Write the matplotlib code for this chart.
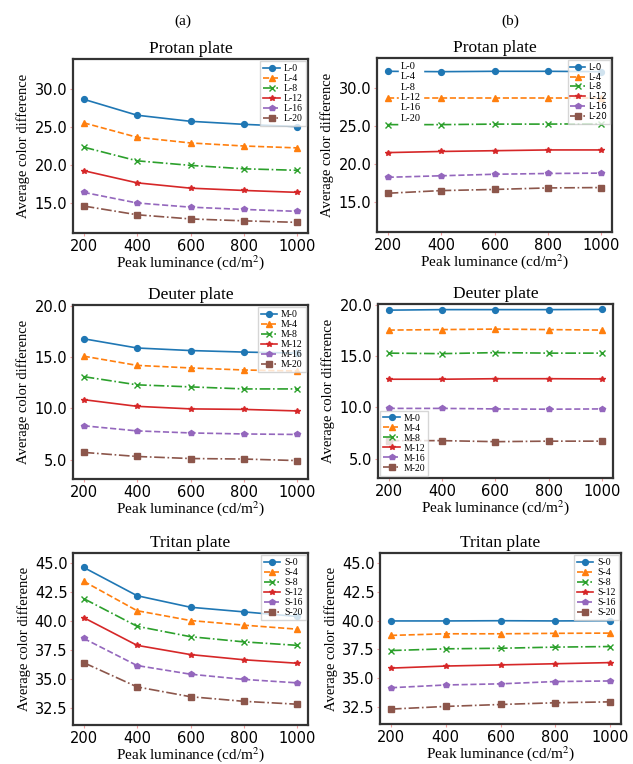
import matplotlib
matplotlib.use("Agg")
import matplotlib.pyplot as plt
from matplotlib.lines import Line2D

# peak luminance levels (cd/m^2)
luminance = [200, 400, 600, 800, 1000]

protan_labels = ["L-0", "L-4", "L-8", "L-12", "L-16", "L-20"]
deuter_labels = ["M-0", "M-4", "M-8", "M-12", "M-16", "M-20"]
tritan_labels = ["S-0", "S-4", "S-8", "S-12", "S-16", "S-20"]

# (a) average color difference
protan_a = [
    [28.6, 26.5, 25.7, 25.3, 25.0],
    [25.5, 23.6, 22.85, 22.45, 22.2],
    [22.3, 20.5, 19.9, 19.45, 19.25],
    [19.2, 17.6, 16.9, 16.6, 16.35],
    [16.35, 14.95, 14.4, 14.1, 13.85],
    [14.55, 13.4, 12.85, 12.6, 12.4],
]
deuter_a = [
    [16.8, 15.9, 15.65, 15.5, 15.4],
    [15.1, 14.2, 13.95, 13.75, 13.65],
    [13.1, 12.3, 12.1, 11.9, 11.9],
    [10.85, 10.2, 9.95, 9.9, 9.75],
    [8.3, 7.8, 7.6, 7.5, 7.45],
    [5.7, 5.3, 5.1, 5.05, 4.9],
]
tritan_a = [
    [44.65, 42.2, 41.2, 40.8, 40.4],
    [43.45, 40.9, 40.05, 39.65, 39.3],
    [41.95, 39.55, 38.65, 38.2, 37.9],
    [40.3, 37.9, 37.1, 36.65, 36.35],
    [38.5, 36.15, 35.4, 34.95, 34.65],
    [36.4, 34.3, 33.45, 33.05, 32.8],
]

# (b) average color difference
protan_b = [
    [32.15, 32.1, 32.15, 32.15, 32.1],
    [28.7, 28.7, 28.7, 28.7, 28.7],
    [25.13, 25.13, 25.2, 25.2, 25.25],
    [21.45, 21.6, 21.7, 21.8, 21.8],
    [18.2, 18.4, 18.6, 18.7, 18.75],
    [16.1, 16.45, 16.6, 16.8, 16.85],
]
deuter_b = [
    [19.5, 19.55, 19.55, 19.55, 19.57],
    [17.55, 17.6, 17.65, 17.6, 17.55],
    [15.3, 15.25, 15.35, 15.3, 15.3],
    [12.75, 12.75, 12.8, 12.8, 12.78],
    [9.9, 9.9, 9.85, 9.82, 9.85],
    [6.75, 6.75, 6.65, 6.7, 6.7],
]
tritan_b = [
    [39.98, 39.98, 40.0, 39.98, 40.0],
    [38.72, 38.86, 38.86, 38.9, 38.92],
    [37.4, 37.55, 37.6, 37.7, 37.75],
    [35.87, 36.05, 36.15, 36.25, 36.35],
    [34.16, 34.4, 34.5, 34.7, 34.75],
    [32.3, 32.53, 32.7, 32.85, 32.93],
]

markers = ["o", "^", "x", "*", "p", "s"]
styles = ["-", "--", "-.", "-", "--", "-."]
colors = plt.cm.tab10.colors[:6]

SERIF = "Liberation Serif"
plt.rcParams["mathtext.fontset"] = "stix"

fig = plt.figure(figsize=(6.33, 7.64), dpi=100)
W, H = 633, 764


def add_axes(left, top, right, bottom):
    return fig.add_axes([left / W, 1 - bottom / H, (right - left) / W, (bottom - top) / H])


def draw(ax, data, labels, title, ylim, yticks, legend_kw):
    for i, row in enumerate(data):
        ax.plot(luminance, row, linestyle=styles[i], marker=markers[i],
                color=colors[i], lw=1.2, ms=4.2 if markers[i] != "x" else 3.8,
                label=labels[i])
    ax.set_ylim(*ylim)
    ax.set_yticks(yticks)
    ax.set_xticks(luminance)
    ax.yaxis.set_major_formatter("{x:.1f}")
    ax.set_title(title, fontsize=12.5, family=SERIF, pad=4)
    ax.set_xlabel("Peak luminance (cd/m$^2$)", fontsize=11, family=SERIF, labelpad=-0.5)
    ax.set_ylabel("Average color difference", fontsize=10.5, family=SERIF, labelpad=3)
    ax.tick_params(labelsize=10.5, length=2.5, width=0.8, color="#f4a0a0", pad=1.5)
    for s in ax.spines.values():
        s.set_linewidth(1.6)
        s.set_color("#333333")
    leg = ax.legend(handlelength=1.7, handletextpad=0.4, labelspacing=0.1,
                    borderpad=0.3, borderaxespad=0.25, fancybox=False,
                    edgecolor="#cccccc", **legend_kw)
    return leg


leg_serif = {"prop": {"family": SERIF, "size": 7}}
leg_sans = {"prop": {"family": "DejaVu Sans", "size": 6.2}}

ax = add_axes(73, 59, 308, 233)
draw(ax, protan_a, protan_labels, "Protan plate", (11.0, 33.9), [15, 20, 25, 30],
     dict(loc="upper right", **leg_serif))

ax = add_axes(377, 58, 612, 232)
leg = draw(ax, protan_b, protan_labels, "Protan plate", (11.0, 33.9), [15, 20, 25, 30],
           dict(loc="upper right", **leg_sans))
ax.add_artist(leg)
# label-only copy of the legend sitting at the top left
blank = [Line2D([], [], lw=0) for _ in protan_labels]
ax.legend(blank, protan_labels, loc="upper left", bbox_to_anchor=(0.07, 1.02),
          handlelength=0, handletextpad=0, labelspacing=0.1, borderpad=0.2,
          frameon=True, edgecolor="white", facecolor="white", framealpha=1,
          fancybox=False, prop={"family": SERIF, "size": 7.5})

ax = add_axes(73, 305, 308, 479)
draw(ax, deuter_a, deuter_labels, "Deuter plate", (3.1, 20.1), [5, 10, 15, 20],
     dict(loc="upper right", **leg_serif))

ax = add_axes(378, 304, 613, 478)
draw(ax, deuter_b, deuter_labels, "Deuter plate", (3.1, 20.1), [5, 10, 15, 20],
     dict(loc="lower left", **leg_serif))

ax = add_axes(73, 553, 308, 725)
draw(ax, tritan_a, tritan_labels, "Tritan plate", (31.0, 45.9), [32.5, 35, 37.5, 40, 42.5, 45],
     dict(loc="upper right", **leg_serif))

ax = add_axes(380, 553, 621, 724)
draw(ax, tritan_b, tritan_labels, "Tritan plate", (31.0, 45.9), [32.5, 35, 37.5, 40, 42.5, 45],
     dict(loc="upper right", **leg_serif))

fig.text(183 / W, 1 - 21 / H, "(a)", fontsize=11, family=SERIF, ha="center", va="center")
fig.text(510 / W, 1 - 21 / H, "(b)", fontsize=11, family=SERIF, ha="center", va="center")

fig.savefig("out.png", dpi=100, facecolor="white")
